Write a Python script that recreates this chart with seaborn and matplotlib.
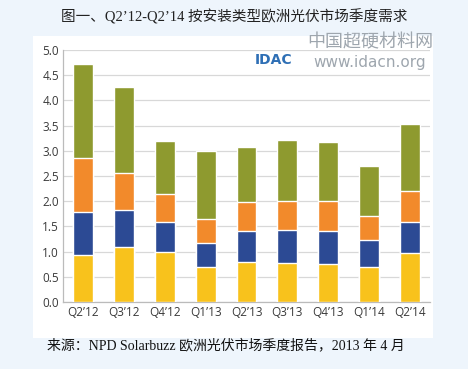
import matplotlib
matplotlib.use("Agg")
import matplotlib.pyplot as plt
import numpy as np
import pandas as pd
import seaborn as sns
from matplotlib.patches import Rectangle

# quarters and stacked segment heights (GW), bottom to top
quarters = ["Q2’12", "Q3’12", "Q4’12", "Q1’13", "Q2’13", "Q3’13", "Q4’13", "Q1’14", "Q2’14"]
seg_yellow = [0.93, 1.09, 1.00, 0.70, 0.79, 0.77, 0.75, 0.70, 0.97]
seg_blue = [0.86, 0.73, 0.58, 0.48, 0.62, 0.66, 0.66, 0.54, 0.62]
seg_orange = [1.06, 0.73, 0.56, 0.46, 0.57, 0.58, 0.60, 0.47, 0.61]
seg_green = [1.87, 1.72, 1.05, 1.36, 1.10, 1.20, 1.16, 0.99, 1.33]

colors = ["#F8C21C", "#2C4A94", "#F28A2B", "#8E9A2F"]
segments = [seg_yellow, seg_blue, seg_orange, seg_green]

title = "图一、Q2’12-Q2’14 按安装类型欧洲光伏市场季度需求"
source = "来源：NPD Solarbuzz 欧洲光伏市场季度报告，2013 年 4 月"

sns.set_theme(style="white")
plt.rcParams["font.family"] = ["Open Sans", "DejaVu Sans"]
mixed = ["Liberation Serif", "Noto Sans CJK SC"]

fig = plt.figure(figsize=(4.68, 3.69), dpi=100)
fig.patch.set_facecolor("#EEF5FC")

# white panel behind chart
fig.patches.append(Rectangle((33 / 468, 1 - 338 / 369), 400 / 468, 302 / 369,
                             transform=fig.transFigure, facecolor="white",
                             edgecolor="none", zorder=-5))

ax = fig.add_axes([63 / 468, 1 - 302 / 369, 367 / 468, 252 / 369])
ax.set_facecolor("white")

tops = np.cumsum(np.array(segments), axis=0)
df = pd.DataFrame({"quarter": quarters})
for i in range(len(segments) - 1, -1, -1):
    df["v"] = tops[i]
    sns.barplot(data=df, x="quarter", y="v", color=colors[i], width=0.49,
                saturation=1, ax=ax, zorder=3)

ax.set_ylim(0, 5)
ax.set_xlim(-0.5, len(quarters) - 0.5)
ax.set_yticks(np.arange(0, 5.01, 0.5))
ax.set_yticklabels([f"{v:.1f}" for v in np.arange(0, 5.01, 0.5)])
ax.yaxis.grid(True, color="#D8D8D8", linewidth=0.9, zorder=0)
ax.set_axisbelow(True)
ax.set_xlabel("")
ax.set_ylabel("")
for side in ["top", "right"]:
    ax.spines[side].set_visible(False)
for side in ["left", "bottom"]:
    ax.spines[side].set_color("#BBBBBB")
    ax.spines[side].set_linewidth(0.9)
ax.tick_params(axis="both", labelsize=8.5, colors="#3A3A3A", length=0, pad=3)
ax.set_xticks(np.arange(-0.5, len(quarters)), minor=True)
ax.tick_params(axis="x", which="minor", length=3, color="#BBBBBB", direction="out")

fig.text(0.5, 1 - 17 / 369, title, ha="center", va="center",
         fontsize=10.5, family=mixed, color="#222222")
fig.text(47 / 468, 1 - 345 / 369, source, ha="left", va="center",
         fontsize=10, family=mixed, color="#111111")

# watermark
fig.text(255 / 468, 1 - 60 / 369, "IDAC", ha="left", va="center", fontsize=10,
         fontweight="bold", color="#2E6FB5", family="DejaVu Sans")
fig.text(370 / 468, 1 - 42 / 369, "中国超硬材料网", ha="center", va="center",
         fontsize=13, color="#9EA6AE", family=["Noto Sans CJK SC"])
fig.text(370 / 468, 1 - 63 / 369, "www.idacn.org", ha="center", va="center",
         fontsize=11, color="#9EA6AE", family="DejaVu Sans")

fig.savefig("out.png", dpi=100, facecolor=fig.get_facecolor())
